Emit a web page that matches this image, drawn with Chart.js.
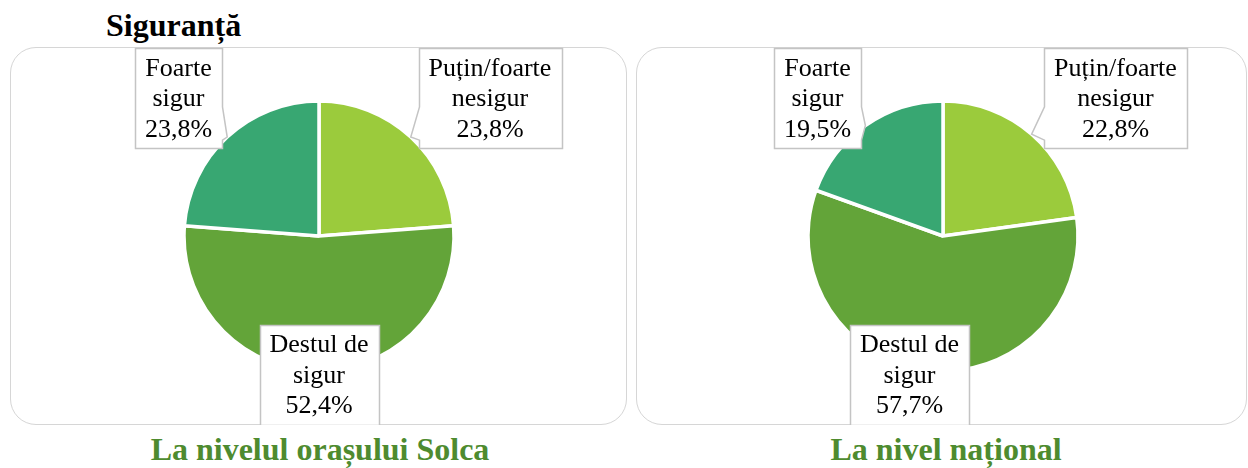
<!DOCTYPE html>
<html lang="ro">
<head>
<meta charset="utf-8">
<title>Siguranță</title>
<script src="https://cdn.jsdelivr.net/npm/chart.js@4"></script>
<style>
  html, body { margin: 0; padding: 0; background: #ffffff; overflow: hidden; }
  body { width: 1248px; height: 468px; position: relative; font-family: "Liberation Serif", "Times New Roman", serif; }
  .panel { position: absolute; top: 47px; height: 378px; box-sizing: border-box;
           border: 1.5px solid #D6D6D6; border-radius: 26px; }
  #panelLeft { left: 10px; width: 617px; }
  #panelRight { left: 636px; width: 611px; }
  canvas { position: absolute; top: 47px; }
  #solcaChart { left: 10px; }
  #nationalChart { left: 636px; }
  .title { position: absolute; font-weight: bold; font-size: 32px; line-height: 32px; white-space: nowrap; }
  #mainTitle { left: 106px; top: 9px; color: #000; }
  .subtitle { top: 433px; color: #4E8B2F; text-align: center; width: 600px; }
  #subLeft { left: 20px; }
  #subRight { left: 646px; }
</style>
</head>
<body>
<div class="title" id="mainTitle">Siguranță</div>
<div class="panel" id="panelLeft"></div>
<div class="panel" id="panelRight"></div>
<canvas id="solcaChart" width="618" height="378"></canvas>
<canvas id="nationalChart" width="614" height="378"></canvas>
<div class="title subtitle" id="subLeft"></div>
<div class="title subtitle" id="subRight"></div>
<script>
// Response categories (each entry holds the lines of its label)
const categories = [['Puțin/foarte', 'nesigur'], ['Destul de', 'sigur'], ['Foarte', 'sigur']];
// Shares in percent
const solcaValues = [23.8, 52.4, 23.8];
const nationalValues = [22.8, 57.7, 19.5];
const panelTitles = ['La nivelul orașului Solca', 'La nivel național'];

const sliceColors = ['#9BCB3C', '#63A439', '#38A772'];

// Callout box centres, relative to the pie centre
const solcaCallouts = [[171, -138], [0, 138.5], [-140.5, -138]];
const nationalCallouts = [[172.5, -138], [-33.5, 138.5], [-125.5, -138]];

document.getElementById('subLeft').textContent = panelTitles[0];
document.getElementById('subRight').textContent = panelTitles[1];

const fmt = v => v.toFixed(1).replace('.', ',') + '%';

// Draws a rectangular callout with a wedge pointing at the slice
function calloutPath(ctx, l, t, w, h, tip) {
  const r = l + w, b = t + h;
  const cx = l + w / 2, cy = t + h / 2;
  const dx = tip.x - cx, dy = tip.y - cy;
  const inside = tip.x >= l && tip.x <= r && tip.y >= t && tip.y <= b;
  let side = null;
  if (!inside) side = Math.abs(dx) / (w / 2) > Math.abs(dy) / (h / 2) ? (dx > 0 ? 'R' : 'L') : (dy > 0 ? 'B' : 'T');
  const yb = dy > 0 ? [t + h * 7 / 12, t + h * 11 / 12] : [t + h / 12, t + h * 5 / 12];
  const xb = dx > 0 ? [l + w * 7 / 12, l + w * 11 / 12] : [l + w / 12, l + w * 5 / 12];
  ctx.beginPath();
  ctx.moveTo(l, t);
  if (side === 'T') { ctx.lineTo(xb[0], t); ctx.lineTo(tip.x, tip.y); ctx.lineTo(xb[1], t); }
  ctx.lineTo(r, t);
  if (side === 'R') { ctx.lineTo(r, yb[0]); ctx.lineTo(tip.x, tip.y); ctx.lineTo(r, yb[1]); }
  ctx.lineTo(r, b);
  if (side === 'B') { ctx.lineTo(xb[1], b); ctx.lineTo(tip.x, tip.y); ctx.lineTo(xb[0], b); }
  ctx.lineTo(l, b);
  if (side === 'L') { ctx.lineTo(l, yb[1]); ctx.lineTo(tip.x, tip.y); ctx.lineTo(l, yb[0]); }
  ctx.closePath();
}

const calloutPlugin = {
  id: 'callouts',
  afterDatasetsDraw(chart, args, opts) {
    const ctx = chart.ctx;
    const meta = chart.getDatasetMeta(0);
    const values = chart.data.datasets[0].data;
    ctx.save();
    ctx.font = '26px "Liberation Serif", "Times New Roman", serif';
    meta.data.forEach((arc, i) => {
      const p = arc.getProps(['x', 'y', 'startAngle', 'endAngle', 'outerRadius'], true);
      const mid = (p.startAngle + p.endAngle) / 2;
      const tip = { x: p.x + Math.cos(mid) * p.outerRadius, y: p.y + Math.sin(mid) * p.outerRadius };
      const lines = chart.data.labels[i].concat([fmt(values[i])]);
      const textW = Math.max(...lines.map(s => ctx.measureText(s).width));
      const w = Math.round(textW + 20), h = 100;
      const bx = p.x + opts.offsets[i][0], by = p.y + opts.offsets[i][1];
      const l = Math.round(bx - w / 2) + 0.5, t = Math.round(by - h / 2) + 0.5;
      calloutPath(ctx, l, t, w, h, tip);
      ctx.fillStyle = '#ffffff';
      ctx.fill();
      ctx.lineWidth = 1.5;
      ctx.strokeStyle = '#C4C4C4';
      ctx.stroke();
      ctx.fillStyle = '#000000';
      ctx.textAlign = 'center';
      ctx.textBaseline = 'alphabetic';
      lines.forEach((s, k) => ctx.fillText(s, bx, by + 8 + (k - 1) * 30.5));
    });
    ctx.restore();
  }
};

function makePie(id, values, offsets) {
  return new Chart(document.getElementById(id), {
    type: 'pie',
    data: {
      labels: categories,
      datasets: [{
        data: values,
        backgroundColor: sliceColors,
        borderColor: '#ffffff',
        borderWidth: 3.5
      }]
    },
    options: {
      responsive: false,
      animation: false,
      events: [],
      radius: 135,
      hoverOffset: 0,
      layout: { padding: 0 },
      plugins: {
        legend: { display: false },
        tooltip: { enabled: false },
        callouts: { offsets: offsets }
      }
    },
    plugins: [calloutPlugin]
  });
}

makePie('solcaChart', solcaValues, solcaCallouts);
makePie('nationalChart', nationalValues, nationalCallouts);
</script>
</body>
</html>
